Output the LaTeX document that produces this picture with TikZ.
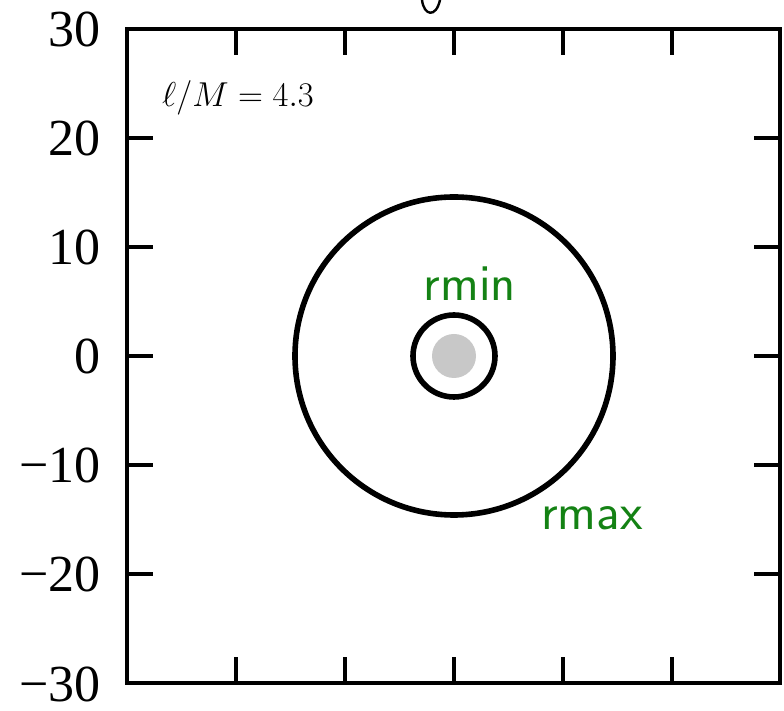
\documentclass[tikz,border=0pt]{standalone}
\usepackage{fontspec}
\setmainfont{Liberation Serif}
\definecolor{handgreen}{RGB}{20,130,20}
\definecolor{diskgray}{RGB}{200,200,200}
\begin{document}
\begin{tikzpicture}[x=0.5pt,y=-0.5pt,
  axis/.style={line width=1.6pt},
  ring/.style={draw, circle, line width=2.8pt, inner sep=0pt},
  ticklab/.style={anchor=east, inner sep=0pt, font=\rmfamily\fontsize{26}{26}\selectfont},
  hand/.style={text=handgreen, inner sep=0pt, font=\sffamily\fontsize{26}{26}\selectfont},
  handblack/.style={inner sep=0pt, font=\fontsize{19}{19}\selectfont}]
\useasboundingbox (0,0) rectangle (784,711);
% frame
\draw[axis] (127,29) rectangle (780,683);
\foreach \x in {236,345,454,563,672} {
  \draw[axis] (\x,29) -- (\x,55);
  \draw[axis] (\x,683) -- (\x,657);
}
\foreach \y in {138,247,356,465,574} {
  \draw[axis] (127,\y) -- (153,\y);
  \draw[axis] (780,\y) -- (754,\y);
}
% tick labels
\foreach \y/\l [count=\i] in {29/30,138/20,247/10,356/0,465/−10,574/−20,684/−30} {
  \node[ticklab] (yl\i) at (101,\y) {\l};
}
% rings
\node[circle, fill=diskgray, inner sep=0pt, minimum size=22pt] (disk) at (454,356) {};
\node[ring, minimum size=41pt] (rmin) at (454,356) {};
\node[ring, minimum size=159pt] (rmax) at (454,356) {};
% labels
\node[hand] (lmin) at (470,284) {rmin};
\node[hand] (lmax) at (592,518) {rmax};
\node[handblack] (lm) at (238,98) {$\ell/M = 4.3$};
% cut-off stroke at top
\draw[line width=1.2pt, line cap=round] (422,0) .. controls (424,16) and (436,18) .. (440,0);
\end{tikzpicture}
\end{document}
